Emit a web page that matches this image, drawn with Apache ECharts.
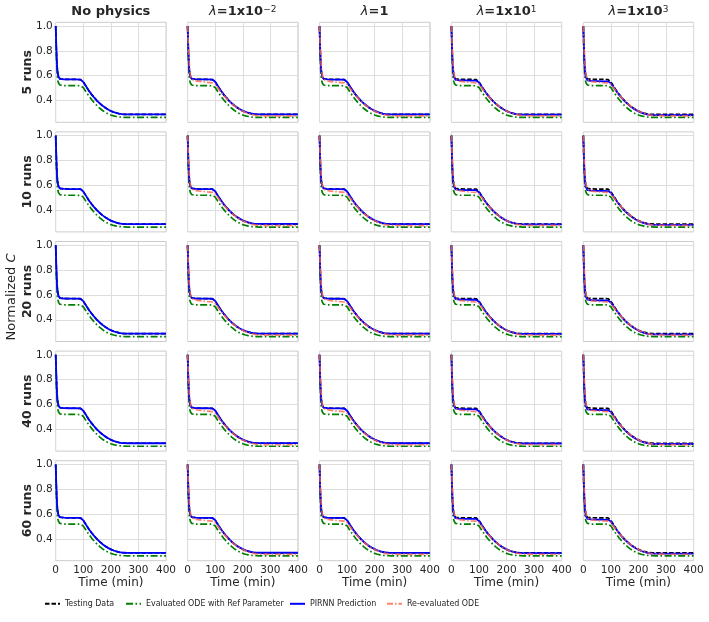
<!DOCTYPE html>
<html>
<head>
<meta charset="utf-8">
<script src="https://cdn.jsdelivr.net/npm/echarts@6.0.0/dist/echarts.min.js"></script>
<style>
html,body{margin:0;padding:0;background:#fff;overflow:hidden;}
#chart{width:709px;height:622px;}
</style>
</head>
<body>
<div id="chart"></div>
<script>
// ---- data ----
const timeMin = [0,1,2,3,4,5,6,8,10,12,15,20,30,50,70,90,95,100,110,120,130,140,150,160,170,180,190,200,210,220,230,240,250,260,280,300,350,400];
const testData = [1.0,0.93,0.85,0.78,0.72,0.68,0.65,0.615,0.594,0.582,0.575,0.572,0.571,0.57,0.57,0.569,0.566,0.55,0.515,0.48,0.45,0.423,0.398,0.377,0.358,0.342,0.328,0.316,0.307,0.3,0.294,0.29,0.289,0.288,0.288,0.288,0.288,0.288];
const refODE = [1.0,0.9,0.81,0.73,0.67,0.62,0.59,0.56,0.542,0.532,0.525,0.521,0.52,0.52,0.52,0.519,0.517,0.505,0.47,0.438,0.408,0.382,0.358,0.338,0.32,0.305,0.293,0.284,0.277,0.272,0.268,0.266,0.265,0.264,0.264,0.264,0.264,0.264];
const predNoPhysics = [1.0,0.93,0.85,0.78,0.72,0.68,0.65,0.615,0.594,0.582,0.575,0.572,0.571,0.57,0.57,0.569,0.566,0.55,0.515,0.48,0.45,0.423,0.398,0.377,0.358,0.342,0.328,0.316,0.307,0.3,0.294,0.29,0.289,0.288,0.288,0.288,0.288,0.288];
const predLam1em2 = [1.0,0.94,0.86,0.79,0.73,0.69,0.655,0.618,0.596,0.583,0.576,0.572,0.571,0.57,0.57,0.569,0.566,0.552,0.517,0.483,0.452,0.425,0.4,0.379,0.36,0.344,0.33,0.318,0.309,0.302,0.296,0.292,0.29,0.289,0.289,0.289,0.289,0.289];
const predLam1 = [1.0,0.93,0.85,0.78,0.72,0.68,0.65,0.615,0.594,0.582,0.575,0.571,0.57,0.569,0.569,0.568,0.565,0.55,0.516,0.482,0.451,0.424,0.4,0.379,0.36,0.344,0.33,0.318,0.309,0.301,0.295,0.291,0.289,0.288,0.288,0.288,0.288,0.288];
const predLam1e1 = [1.0,0.93,0.85,0.78,0.72,0.68,0.645,0.61,0.588,0.575,0.567,0.564,0.563,0.562,0.561,0.561,0.558,0.545,0.512,0.479,0.449,0.422,0.398,0.377,0.358,0.342,0.328,0.316,0.306,0.299,0.293,0.289,0.287,0.286,0.286,0.286,0.286,0.286];
const predLam1e3 = [1.0,0.93,0.85,0.78,0.72,0.675,0.64,0.605,0.583,0.57,0.562,0.558,0.557,0.556,0.555,0.554,0.552,0.54,0.508,0.476,0.446,0.419,0.395,0.374,0.355,0.339,0.325,0.313,0.303,0.295,0.289,0.285,0.283,0.282,0.282,0.282,0.282,0.282];
const reEvalLam1em2 = [1.0,0.95,0.89,0.83,0.78,0.74,0.7,0.645,0.61,0.59,0.575,0.565,0.558,0.552,0.547,0.543,0.541,0.532,0.502,0.472,0.444,0.419,0.396,0.375,0.357,0.341,0.327,0.315,0.304,0.296,0.289,0.284,0.28,0.278,0.277,0.276,0.276,0.276];
const reEvalLam1 = [1.0,0.95,0.88,0.82,0.77,0.73,0.695,0.64,0.607,0.588,0.574,0.564,0.557,0.551,0.547,0.543,0.541,0.532,0.502,0.472,0.444,0.419,0.396,0.375,0.357,0.341,0.327,0.315,0.304,0.296,0.289,0.284,0.28,0.278,0.277,0.276,0.276,0.276];
const reEvalLam1e1 = [1.0,0.95,0.89,0.83,0.78,0.74,0.7,0.645,0.61,0.59,0.574,0.563,0.556,0.55,0.546,0.543,0.541,0.532,0.503,0.473,0.445,0.42,0.397,0.376,0.358,0.342,0.328,0.316,0.305,0.297,0.29,0.285,0.281,0.279,0.278,0.277,0.277,0.277];
const reEvalLam1e3 = [1.0,0.95,0.89,0.83,0.78,0.74,0.7,0.645,0.608,0.587,0.571,0.56,0.553,0.548,0.545,0.543,0.541,0.532,0.503,0.473,0.445,0.42,0.397,0.376,0.358,0.342,0.328,0.316,0.305,0.297,0.29,0.285,0.281,0.279,0.278,0.277,0.277,0.277];

const predByColumn = [predNoPhysics, predLam1em2, predLam1, predLam1e1, predLam1e3];
const reEvalByColumn = [null, reEvalLam1em2, reEvalLam1, reEvalLam1e1, reEvalLam1e3];
const columnTitles = ['{b|No physics}', '{l|λ}{b|=1x10}{s|−2}', '{l|λ}{b|=1}', '{l|λ}{b|=1x10}{s|1}', '{l|λ}{b|=1x10}{s|3}'];
const rowLabels = ['5 runs', '10 runs', '20 runs', '40 runs', '60 runs'];
const yTicks = [0.4, 0.6, 0.8, 1.0];
const seriesNames = ['Testing Data', 'Evaluated ODE with Ref Parameter', 'PIRNN Prediction', 'Re-evaluated ODE'];

// ---- layout ----
const FONT = 'DejaVu Sans';
const L0 = 55.7, DX = 131.9, W = 110.3;
const T0 = 22.3, DY = 109.6, H = 100;

const pairs = arr => timeMin.map((x, i) => [x, arr[i]]);

const grids = [], xAxes = [], yAxes = [], series = [], graphics = [];
for (let r = 0; r < 5; r++) {
  for (let c = 0; c < 5; c++) {
    const idx = r * 5 + c;
    grids.push({left: L0 + c * DX, top: T0 + r * DY, width: W, height: H,
      show: true, borderColor: '#cccccc', borderWidth: 1, backgroundColor: '#fff'});
    const bottom = r === 4;
    xAxes.push({type: 'value', gridIndex: idx, min: 0, max: 400, interval: 100,
      axisLine: {show: false}, axisTick: {show: false},
      splitLine: {show: true, lineStyle: {color: '#dddddd', width: 1}},
      axisLabel: {show: bottom, fontFamily: FONT, fontSize: 10.5, color: '#262626', margin: 4},
      name: bottom ? 'Time (min)' : '', nameLocation: 'middle', nameGap: 14,
      nameTextStyle: {fontFamily: FONT, fontSize: 12, color: '#262626'}});
    yAxes.push({type: 'value', gridIndex: idx, min: 0.225, max: 1.03,
      axisLine: {show: false},
      axisTick: {show: false, customValues: yTicks},
      splitLine: {show: true, lineStyle: {color: '#dddddd', width: 1}},
      axisLabel: {show: c === 0, customValues: yTicks, formatter: v => v.toFixed(1),
        fontFamily: FONT, fontSize: 10.5, color: '#262626', margin: 3}});
    series.push({name: seriesNames[0], type: 'line', xAxisIndex: idx, yAxisIndex: idx,
      data: pairs(testData), symbol: 'none', silent: true,
      lineStyle: {color: '#000000', width: 1.7, type: [4.5, 2]}, itemStyle: {color: '#000000'}});
    series.push({name: seriesNames[1], type: 'line', xAxisIndex: idx, yAxisIndex: idx,
      data: pairs(refODE), symbol: 'none', silent: true,
      lineStyle: {color: '#008000', width: 1.7, type: [7, 2.5, 1.6, 2.5]}, itemStyle: {color: '#008000'}});
    series.push({name: seriesNames[2], type: 'line', xAxisIndex: idx, yAxisIndex: idx,
      data: pairs(predByColumn[c]), symbol: 'none', silent: true,
      lineStyle: {color: '#0000ff', width: 1.8}, itemStyle: {color: '#0000ff'}});
    if (reEvalByColumn[c]) {
      series.push({name: seriesNames[3], type: 'line', xAxisIndex: idx, yAxisIndex: idx,
        data: pairs(reEvalByColumn[c]), symbol: 'none', silent: true,
        lineStyle: {color: '#ff6347', width: 1.7, opacity: 0.8, type: [6, 2, 1.5, 2]}, itemStyle: {color: '#ff6347'}});
    }
  }
}

// column titles
for (let c = 0; c < 5; c++) {
  graphics.push({type: 'text', x: L0 + c * DX + W / 2, y: 12, silent: true,
    style: {text: columnTitles[c], align: 'center', verticalAlign: 'middle', fill: '#262626',
      rich: {
        b: {fontFamily: FONT, fontWeight: 'bold', fontSize: 13, fill: '#262626'},
        l: {fontFamily: FONT, fontStyle: 'italic', fontSize: 13, fill: '#262626'},
        s: {fontFamily: FONT, fontSize: 9, verticalAlign: 'top', fill: '#262626'}
      }}});
}
// row labels
for (let r = 0; r < 5; r++) {
  graphics.push({type: 'text', x: 27.5, y: T0 + r * DY + H / 2, rotation: Math.PI / 2, silent: true,
    style: {text: rowLabels[r], align: 'center', verticalAlign: 'middle', fill: '#262626',
      fontFamily: FONT, fontWeight: 'bold', fontSize: 12.5}});
}
// y title
graphics.push({type: 'text', x: 11.5, y: 297, rotation: Math.PI / 2, silent: true,
  style: {text: '{n|Normalized }{i|C}', align: 'center', verticalAlign: 'middle',
    rich: {n: {fontFamily: FONT, fontSize: 13, fill: '#262626'},
           i: {fontFamily: FONT, fontStyle: 'italic', fontSize: 13, fill: '#262626'}}}});

const legendLefts = [44, 125, 289, 386];
const legends = seriesNames.map((n, i) => ({
  data: [n], left: legendLefts[i], top: 599, itemWidth: 15, itemHeight: 12, itemGap: 0,
  selectedMode: false, padding: 0,
  itemStyle: {opacity: 0},
  textStyle: {fontFamily: "'DejaVu Sans Condensed', 'DejaVu Sans'", fontSize: 8.8, color: '#262626'}
}));

const chart = echarts.init(document.getElementById('chart'), null, {renderer: 'canvas'});
chart.setOption({
  animation: false,
  backgroundColor: '#ffffff',
  grid: grids, xAxis: xAxes, yAxis: yAxes, series: series,
  legend: legends,
  graphic: graphics
});
</script>
</body>
</html>
